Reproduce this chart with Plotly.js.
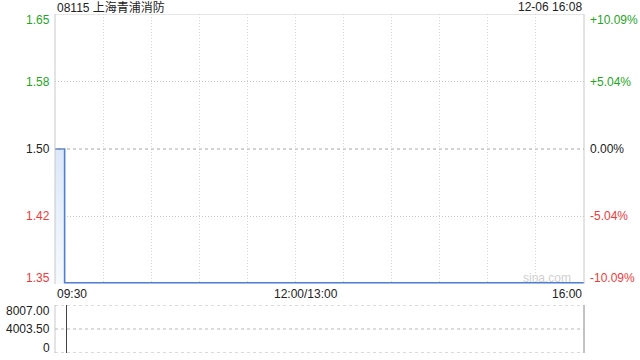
<!DOCTYPE html>
<html>
<head>
<meta charset="utf-8">
<script src="https://cdn.plot.ly/plotly-3.0.1.min.js"></script>
<style>html,body{margin:0;padding:0;background:#fff;}#chart{width:640px;height:360px;}</style>
</head>
<body>
<div id="chart"></div>
<script>
// ---- data ----
var stockTitle = "08115 上海青浦消防";
var stampText = "12-06 16:08";
var prevClose = 1.50;
var priceTimes = ["09:30", "09:36", "16:00"];
var priceValues = [1.50, 1.35, 1.35];
var volumeTimes = ["09:37"];
var volumeValues = [8007];
var priceTickLabels = ["1.65", "1.58", "1.50", "1.42", "1.35"];
var pctTickLabels = ["+10.09%", "+5.04%", "0.00%", "-5.04%", "-10.09%"];
var pctTickValues = [0.1009, 0.0504, 0, -0.0504, -0.1009];
var volumeTickLabels = ["8007.00", "4003.50", "0"];
var volumeTickValues = [8007, 4003.5, 0];
var timeTickLabels = ["09:30", "12:00/13:00", "16:00"];
var gridTimes = ["10:00","10:30","11:00","11:30","12:00","13:30","14:00","14:30","15:00","15:30"];

// session minutes: 09:30-12:00 and 13:00-16:00
function toMin(t) {
  var p = t.split(":"), m = (+p[0]) * 60 + (+p[1]);
  if (m <= 720) return m - 570;
  return 150 + (m - 780);
}
var px = priceTimes.map(toMin);
var vx = volumeTimes.map(toMin);
var gx = gridTimes.map(toMin);

var green = "#1fa51f", red = "#f03a3a", dark = "#222";
var font = "Arial, 'Liberation Sans', 'Noto Sans CJK SC', sans-serif";
var yMin = prevClose * (1 - 0.1009), yMax = prevClose * (1 + 0.1009);
var pricePos = pctTickValues.map(function (p) { return prevClose * (1 + p); });
var dotted = "1px,2px";

function colorFor(p) { return p > 0 ? green : (p < 0 ? red : dark); }

var traces = [
  {
    x: px, y: priceValues, type: "scatter", mode: "lines",
    line: { color: "#4f7fd0", width: 1.6, shape: "hv" },
    fill: "tozeroy",
    fillgradient: { type: "vertical", start: yMin, stop: 1.5,
      colorscale: [[0, "rgba(246,250,254,1)"], [1, "rgba(220,232,249,1)"]] },
    xaxis: "x", yaxis: "y", hoverinfo: "skip"
  },
  {
    x: vx, y: volumeValues, type: "bar", width: 0.7,
    marker: { color: "#444", line: { width: 0 } },
    xaxis: "x2", yaxis: "y2", hoverinfo: "skip"
  }
];

var ann = [];
ann.push({ xref: "paper", yref: "paper", x: 0, y: 1, yshift: 7, xanchor: "left", yanchor: "middle",
  text: stockTitle, showarrow: false, font: { family: font, size: 12, color: dark } });
ann.push({ xref: "paper", yref: "paper", x: 1, y: 1, yshift: 7, xanchor: "right", yanchor: "middle",
  text: stampText, showarrow: false, font: { family: font, size: 12, color: dark } });
for (var i = 0; i < pricePos.length; i++) {
  var ys = i === 0 ? -6 : (i === pricePos.length - 1 ? 6 : 0);
  var c = colorFor(pctTickValues[i]);
  ann.push({ xref: "paper", yref: "y", x: 0, xshift: -3, y: pricePos[i], yshift: ys,
    xanchor: "right", yanchor: "middle", text: priceTickLabels[i], showarrow: false,
    font: { family: font, size: 12, color: c } });
  ann.push({ xref: "paper", yref: "y", x: 1, xshift: 4, y: pricePos[i], yshift: ys,
    xanchor: "left", yanchor: "middle", text: pctTickLabels[i], showarrow: false,
    font: { family: font, size: 12, color: c } });
}
for (var j = 0; j < volumeTickValues.length; j++) {
  var vs = j === 0 ? -6 : (j === volumeTickValues.length - 1 ? 5 : 0);
  ann.push({ xref: "paper", yref: "y2", x: 0, xshift: -3, y: volumeTickValues[j], yshift: vs,
    xanchor: "right", yanchor: "middle", text: volumeTickLabels[j], showarrow: false,
    font: { family: font, size: 12, color: dark } });
}
ann.push({ xref: "x", yref: "y", x: 0, y: yMin, yshift: -10, xanchor: "left", yanchor: "middle",
  text: timeTickLabels[0], showarrow: false, font: { family: font, size: 12, color: dark } });
ann.push({ xref: "x", yref: "y", x: 150, xshift: 11, y: yMin, yshift: -10, xanchor: "center", yanchor: "middle",
  text: timeTickLabels[1], showarrow: false, font: { family: font, size: 12, color: dark } });
ann.push({ xref: "x", yref: "y", x: 330, y: yMin, yshift: -10, xanchor: "right", yanchor: "middle",
  text: timeTickLabels[2], showarrow: false, font: { family: font, size: 12, color: dark } });
ann.push({ xref: "x", yref: "y", x: 330, xshift: -11, y: yMin, yshift: 6, xanchor: "right", yanchor: "middle",
  text: "sina.com", showarrow: false, font: { family: font, size: 12, color: "#d0d0d0" } });

var shapes = [
  // price panel frame
  { type: "line", xref: "paper", yref: "y", x0: 0, x1: 0, y0: yMin, y1: yMax, line: { color: "#c8c8c8", width: 1 } },
  { type: "line", xref: "paper", yref: "y", x0: 1, x1: 1, y0: yMin, y1: yMax, line: { color: "#c8c8c8", width: 1 } },
  { type: "line", xref: "paper", yref: "y", x0: 0, x1: 1, y0: yMax, y1: yMax, line: { color: "#d0d0d0", width: 1 } },
  // prev close line
  { type: "line", xref: "paper", yref: "y", x0: 0, x1: 1, y0: prevClose, y1: prevClose, line: { color: "#a8a8a8", width: 1, dash: "dot" } },
  // volume panel frame
  { type: "line", xref: "paper", yref: "y2", x0: 0, x1: 0, y0: 0, y1: 8007, line: { color: "#c8c8c8", width: 1 } },
  { type: "line", xref: "paper", yref: "y2", x0: 1, x1: 1, y0: 0, y1: 8007, line: { color: "#888", width: 1 } }
];
volumeTickValues.forEach(function (v) {
  shapes.push({ type: "line", xref: "paper", yref: "y2", x0: 0, x1: 1, y0: v, y1: v,
    line: { color: "#b8b8b8", width: 1, dash: "dot" } });
});

var layout = {
  width: 640, height: 360,
  margin: { l: 55, r: 56, t: 14, b: 7, pad: 0 },
  paper_bgcolor: "#fff", plot_bgcolor: "rgba(0,0,0,0)",
  showlegend: false,
  xaxis: { domain: [0, 1], range: [0, 330], anchor: "y", tickvals: gx, showticklabels: false, ticks: "",
    showgrid: true, gridcolor: "#d6d6d6", griddash: dotted, gridwidth: 1, zeroline: false, showline: false, fixedrange: true },
  yaxis: { domain: [0.2035, 1], range: [yMin, yMax], tickvals: [pricePos[1], pricePos[3]], showticklabels: false, ticks: "",
    showgrid: true, gridcolor: "#c8c8c8", griddash: dotted, zeroline: false, showline: false, fixedrange: true },
  xaxis2: { domain: [0, 1], range: [0, 330], anchor: "y2", showticklabels: false, ticks: "", showgrid: false,
    zeroline: false, showline: false, fixedrange: true },
  yaxis2: { domain: [0, 0.1416], range: [0, 8007], showticklabels: false, ticks: "",
    showgrid: false, zeroline: false, showline: false, fixedrange: true },
  annotations: ann,
  shapes: shapes,
  bargap: 0
};

Plotly.newPlot("chart", traces, layout, { displayModeBar: false, staticPlot: true });
</script>
</body>
</html>
